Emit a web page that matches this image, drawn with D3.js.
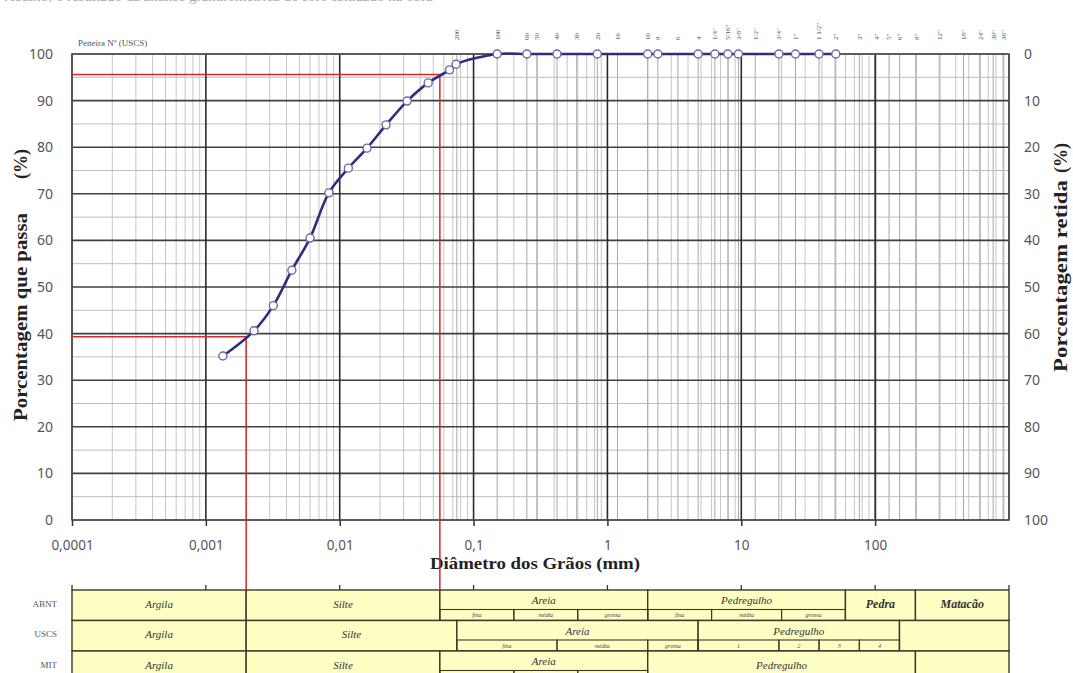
<!DOCTYPE html>
<html><head><meta charset="utf-8">
<script src="https://cdn.jsdelivr.net/npm/d3@7"></script>
<style>body{margin:0;background:#fff}svg{display:block}</style>
</head><body>
<svg id="c" width="1073" height="673"></svg>
<script>
// ---------- DATA ----------
const diametros = [0.00134, 0.00229, 0.00319, 0.00439, 0.0060, 0.0083, 0.0116, 0.0160, 0.0222, 0.0319, 0.0458, 0.0661, 0.074,
                   0.15, 0.25, 0.42, 0.84, 2.0, 2.38, 4.76, 6.35, 7.94, 9.52, 19.1, 25.4, 38.1, 50.8];
const passantes = [35.2, 40.6, 46.0, 53.6, 60.5, 70.2, 75.5, 79.8, 84.8, 89.9, 93.8, 96.6, 97.8,
                   100, 100, 100, 100, 100, 100, 100, 100, 100, 100, 100, 100, 100, 100];
const peneirasNome = ["200","100","60","50","40","30","20","16","10","8","6","4","1/4\"","5/16\"","3/8\"","1/2\"","3/4\"","1\"","1 1/2\"","2\"","3\"","4\"","5\"","6\"","8\"","12\"","18\"","24\"","30\"","36\""];
const peneirasAbertura = [0.075,0.15,0.25,0.297,0.42,0.59,0.84,1.19,2.0,2.38,3.36,4.76,6.35,7.94,9.52,12.7,19.1,25.4,38.1,50.8,76.2,101.6,127,152.4,203,305,457,610,762,914];
const rotulosX = [0.0001,0.001,0.01,0.1,1,10,100];
const rotulosY = [0,10,20,30,40,50,60,70,80,90,100];
const refDiametro = [0.002, 0.056];
const refPassante = [39.3, 95.6];
const sistemas = ["ABNT","USCS","MIT"];
const abntClasses = [["Argila",1e-4,0.002,0],["Silte",0.002,0.056,0],["Areia",0.056,2,1],["Pedregulho",2,60,1],["Pedra",60,200,0],["Matacão",200,1000,0]];
const abntSub = [["fina",0.056,0.2],["média",0.2,0.6],["grossa",0.6,2],["fina",2,6],["média",6,20],["grossa",20,60]];
const uscsClasses = [["Argila",1e-4,0.002,0],["Silte",0.002,0.075,0],["Areia",0.075,4.76,1],["Pedregulho",4.76,152,1],["",152,1000,0]];
const uscsSub = [["fina",0.075,0.42],["média",0.42,2],["grossa",2,4.76],["1",4.76,19.1],["2",19.1,38.1],["3",38.1,76.2],["4",76.2,152]];
const mitClasses = [["Argila",1e-4,0.002,0],["Silte",0.002,0.056,0],["Areia",0.056,2,1],["Pedregulho",2,200,0],["",200,1000,0]];
const mitSub = [["fina",0.056,0.2],["média",0.2,0.6],["grossa",0.6,2]];

// ---------- LAYOUT ----------
const L = 72, R = 1009, T = 54, B = 520;
const svg = d3.select("#c");
const x = d3.scaleLog().domain([1e-4, 1e3]).range([L, R]);
const y = d3.scaleLinear().domain([0, 100]).range([B, T]);
const yR = d3.scaleLinear().domain([100, 0]).range([B, T]);
const serif = "'Liberation Serif','Times New Roman',serif";
const sans = "'Noto Sans','Liberation Sans',sans-serif";

// cut-off caption at the very top
svg.append("text").attr("x", 4).attr("y", 0.5).attr("font-family", serif).attr("font-size", 15)
  .attr("fill", "#aaa").text("Abaixo, o resultado da análise granulométrica do solo estudado na obra");

// ---------- GRID ----------
const grid = svg.append("g");
const isDecade = v => Math.abs(Math.log10(v) - Math.round(Math.log10(v))) < 1e-9;
grid.selectAll("line.vmin").data(x.ticks().filter(v => !isDecade(v))).join("line")
  .attr("x1", d => x(d)).attr("x2", d => x(d)).attr("y1", T).attr("y2", B)
  .attr("stroke", "#c6c6c6").attr("stroke-width", 1);
grid.selectAll("line.sieve").data(peneirasAbertura).join("line")
  .attr("x1", d => x(d)).attr("x2", d => x(d)).attr("y1", T).attr("y2", B)
  .attr("stroke", "#a8a8a8").attr("stroke-width", 1);
grid.selectAll("line.hmin").data(d3.range(5, 100, 10)).join("line")
  .attr("x1", L).attr("x2", R).attr("y1", d => y(d)).attr("y2", d => y(d))
  .attr("stroke", "#bdbdbd").attr("stroke-width", 1);
grid.selectAll("line.hmaj").data(rotulosY).join("line")
  .attr("x1", L).attr("x2", R).attr("y1", d => y(d)).attr("y2", d => y(d))
  .attr("stroke", "#404040").attr("stroke-width", 1.6);
grid.selectAll("line.vmaj").data(x.ticks().filter(isDecade)).join("line")
  .attr("x1", d => x(d)).attr("x2", d => x(d)).attr("y1", T).attr("y2", B)
  .attr("stroke", "#2a2a2a").attr("stroke-width", 1.6);
svg.append("rect").attr("x", L).attr("y", T).attr("width", R - L).attr("height", B - T)
  .attr("fill", "none").attr("stroke", "#555").attr("stroke-width", 1.5);

// ---------- AXES ----------
const fmt = v => String(v).replace(".", ",");
const ax = svg.append("g").attr("transform", `translate(0,${B})`)
  .call(d3.axisBottom(x).tickValues(rotulosX).tickFormat(fmt).tickSize(6).tickPadding(14));
ax.select(".domain").remove();
ax.selectAll("line").attr("stroke", "#333").attr("stroke-width", 1.5);
ax.selectAll("text").attr("font-family", sans).attr("font-size", 13.5).attr("fill", "#555");

const ayl = svg.append("g").attr("transform", `translate(${L},0)`)
  .call(d3.axisLeft(y).tickValues(rotulosY).tickSize(0).tickPadding(19));
ayl.select(".domain").remove();
ayl.selectAll("text").attr("font-family", sans).attr("font-size", 14).attr("fill", "#555");

const ayr = svg.append("g").attr("transform", `translate(${R},0)`)
  .call(d3.axisRight(yR).tickValues(rotulosY).tickSize(0).tickPadding(15));
ayr.select(".domain").remove();
ayr.selectAll("text").attr("font-family", sans).attr("font-size", 14).attr("fill", "#555");

// titles
svg.append("text").attr("x", 535).attr("y", 569).attr("text-anchor", "middle")
  .attr("font-family", serif).attr("font-weight", "bold").attr("font-size", 17.5).attr("fill", "#222")
  .attr("textLength", 210).attr("lengthAdjust", "spacingAndGlyphs").text("Diâmetro dos Grãos (mm)");
svg.append("text").attr("transform", "translate(27,317) rotate(-90)").attr("text-anchor", "middle")
  .attr("font-family", serif).attr("font-weight", "bold").attr("font-size", 18).attr("fill", "#222")
  .attr("textLength", 208).attr("lengthAdjust", "spacingAndGlyphs").text("Porcentagem que passa");
svg.append("text").attr("transform", "translate(27,164) rotate(-90)").attr("text-anchor", "middle")
  .attr("font-family", serif).attr("font-weight", "bold").attr("font-size", 18).attr("fill", "#222").text("(%)");
svg.append("text").attr("transform", "translate(1067,276) rotate(-90)").attr("text-anchor", "middle")
  .attr("font-family", serif).attr("font-weight", "bold").attr("font-size", 18).attr("fill", "#222")
  .attr("textLength", 192).attr("lengthAdjust", "spacingAndGlyphs").text("Porcentagem retida");
svg.append("text").attr("transform", "translate(1067,158) rotate(-90)").attr("text-anchor", "middle")
  .attr("font-family", serif).attr("font-weight", "bold").attr("font-size", 18).attr("fill", "#222").text("(%)");

svg.append("text").attr("x", 78).attr("y", 46).attr("font-family", serif).attr("font-size", 9)
  .attr("fill", "#555").text("Peneira Nº  (USCS)");

svg.selectAll("text.sv").data(peneirasAbertura).join("text")
  .attr("transform", d => `translate(${x(d)},40) rotate(-90)`)
  .attr("dy", "0.35em").attr("font-family", serif).attr("font-size", 7).attr("fill", "#555")
  .text((d, i) => peneirasNome[i]);

// ---------- TABLE ----------
const tTop = 590, rowH = 30.5, mainH = 19.5;
const classesPorSistema = [abntClasses, uscsClasses, mitClasses];
const subPorSistema = [abntSub, uscsSub, mitSub];
const tab = svg.append("g");
sistemas.forEach((s, i) => {
  const top = tTop + i * rowH;
  const g = tab.append("g");
  g.selectAll("rect.cl").data(classesPorSistema[i]).join("rect")
    .attr("x", d => x(d[1])).attr("y", top).attr("width", d => x(d[2]) - x(d[1])).attr("height", rowH)
    .attr("fill", "#ffffc4").attr("stroke", "#3a3a2a").attr("stroke-width", 1.4);
  g.selectAll("rect.sb").data(subPorSistema[i]).join("rect")
    .attr("x", d => x(d[1])).attr("y", top + mainH).attr("width", d => x(d[2]) - x(d[1])).attr("height", rowH - mainH)
    .attr("fill", "none").attr("stroke", "#3a3a2a").attr("stroke-width", 1.1);
  g.selectAll("text.cl").data(classesPorSistema[i]).join("text")
    .attr("x", d => (x(d[1]) + x(d[2])) / 2).attr("y", d => d[3] ? top + mainH / 2 + 0.5 : top + rowH / 2 - 1.5)
    .attr("dominant-baseline", "central").attr("text-anchor", "middle")
    .attr("font-family", serif).attr("font-style", "italic")
    .attr("font-weight", d => (d[0] === "Pedra" || d[0] === "Matacão") ? "bold" : "normal")
    .attr("font-size", d => (d[0] === "Pedra" || d[0] === "Matacão") ? 12 : 11).attr("fill", "#333")
    .text(d => d[0]);
  g.selectAll("text.sb").data(subPorSistema[i]).join("text")
    .attr("x", d => (x(d[1]) + x(d[2])) / 2).attr("y", top + (mainH + rowH) / 2)
    .attr("dominant-baseline", "central").attr("text-anchor", "middle")
    .attr("font-family", serif).attr("font-style", "italic").attr("font-size", 6).attr("fill", "#444")
    .text(d => d[0]);
  g.append("text").attr("x", 57).attr("y", top + rowH / 2 - 1.5).attr("dominant-baseline", "central")
    .attr("text-anchor", "end").attr("font-family", serif).attr("font-size", 9).attr("fill", "#555").text(s);
});
tab.selectAll("line.tk").data(x.ticks().filter(isDecade)).join("line")
  .attr("x1", d => x(d)).attr("x2", d => x(d)).attr("y1", tTop - 5).attr("y2", tTop)
  .attr("stroke", "#333").attr("stroke-width", 1.3);

// ---------- RED REFERENCE LINES ----------
refDiametro.forEach((dm, i) => {
  svg.append("path")
    .attr("d", `M${x(1e-4)},${y(refPassante[i])}H${x(dm)}V${tTop}`)
    .attr("fill", "none").attr("stroke", "#d42a2a").attr("stroke-width", 1.5);
});

// ---------- CURVE ----------
const pts = diametros.map((d, i) => [x(d), y(passantes[i])]);
svg.append("path").attr("d", d3.line().curve(d3.curveCatmullRom.alpha(0.5))(pts))
  .attr("fill", "none").attr("stroke", "#2e2e7e").attr("stroke-width", 2.6);
svg.selectAll("circle.pt").data(pts).join("circle")
  .attr("cx", d => d[0]).attr("cy", d => d[1]).attr("r", 4)
  .attr("fill", "#fff").attr("stroke", "#6a6aa6").attr("stroke-width", 1.4);
</script>
</body></html>
